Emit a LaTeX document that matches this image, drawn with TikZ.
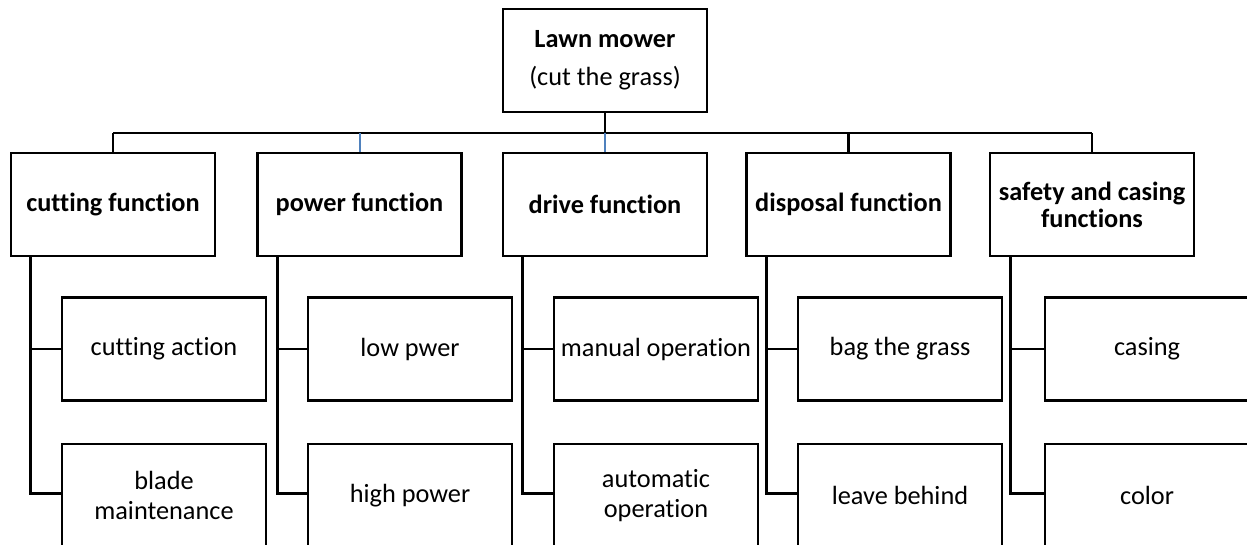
\documentclass[tikz,border=0pt]{standalone}
\usepackage{fontspec}
\setmainfont[Ligatures={NoCommon,NoRequired,NoContextual},RawFeature={-liga;-clig;-dlig;-calt}]{Carlito}
\definecolor{linkblue}{HTML}{4F81BD}
\begin{document}
\begin{tikzpicture}[x=1pt,y=-1pt,
  box/.style={draw=black, line width=2.9pt, minimum width=204pt, minimum height=103pt,
    inner sep=0pt, align=center, font=\fontsize{26.3}{30}\selectfont},
  headbox/.style={box, font=\fontsize{26.3}{27}\selectfont\bfseries},
  subbox/.style={box, minimum height=103pt},
  link/.style={draw=black, line width=2.9pt},
  bluelink/.style={draw=linkblue, line width=2pt}]
\useasboundingbox (0,0) rectangle (1247,544);
\clip (0,0) rectangle (1247,544);
% root
\node[box, font=\fontsize{26.3}{38}\selectfont] (root) at (605,60.5) {\textbf{Lawn mower}\\(cut the grass)};
% functions
\node[headbox] (cut)  at (113,204.5)   {cutting function};
\node[headbox] (pow)  at (359.5,204.5) {power function};
\node[headbox] (drv)  at (605,204.5)   {drive function};
\node[headbox] (dis)  at (848.5,204.5) {disposal function};
\node[headbox] (saf)  at (1092,204.5)  {safety and casing\\functions};
% sub-functions
\node[subbox] (ca)  at (164,349)   {cutting action};
\node[subbox] (bm)  at (164,495.5) {blade\\maintenance};
\node[subbox] (lp)  at (410,349)   {low pwer};
\node[subbox] (hp)  at (410,495.5) {high power};
\node[subbox] (mo)  at (656,349)   {manual operation};
\node[subbox] (ao)  at (656,495.5) {automatic\\operation};
\node[subbox] (bg)  at (900,349)   {bag the grass};
\node[subbox] (lb)  at (900,495.5) {leave behind};
\node[subbox] (cs)  at (1147,349)  {casing};
\node[subbox] (co)  at (1147,495.5){color};
% bus
\coordinate (bus) at (605,133);
\draw[link] (root.south) -- (bus);
\draw[link] (cut.north |- bus) -- (saf.north |- bus);
\draw[link] (cut.north |- bus) -- (cut.north);
\draw[bluelink] (pow.north |- bus) -- (pow.north);
\draw[bluelink] (drv.north |- bus) -- (drv.north);
\draw[link] (dis.north |- bus) -- (dis.north);
\draw[link] (saf.north |- bus) -- (saf.north);
% children
\draw[link] ([xshift=21pt]cut.south west) |- (ca.west);
\draw[link] ([xshift=21pt]cut.south west) |- ([yshift=2pt]bm.west);
\draw[link] ([xshift=21pt]pow.south west) |- (lp.west);
\draw[link] ([xshift=21pt]pow.south west) |- ([yshift=2pt]hp.west);
\draw[link] ([xshift=21pt]drv.south west) |- (mo.west);
\draw[link] ([xshift=21pt]drv.south west) |- ([yshift=2pt]ao.west);
\draw[link] ([xshift=21pt]dis.south west) |- (bg.west);
\draw[link] ([xshift=21pt]dis.south west) |- ([yshift=2pt]lb.west);
\draw[link] ([xshift=22pt]saf.south west) |- (cs.west);
\draw[link] ([xshift=22pt]saf.south west) |- ([yshift=2pt]co.west);
\end{tikzpicture}
\end{document}
